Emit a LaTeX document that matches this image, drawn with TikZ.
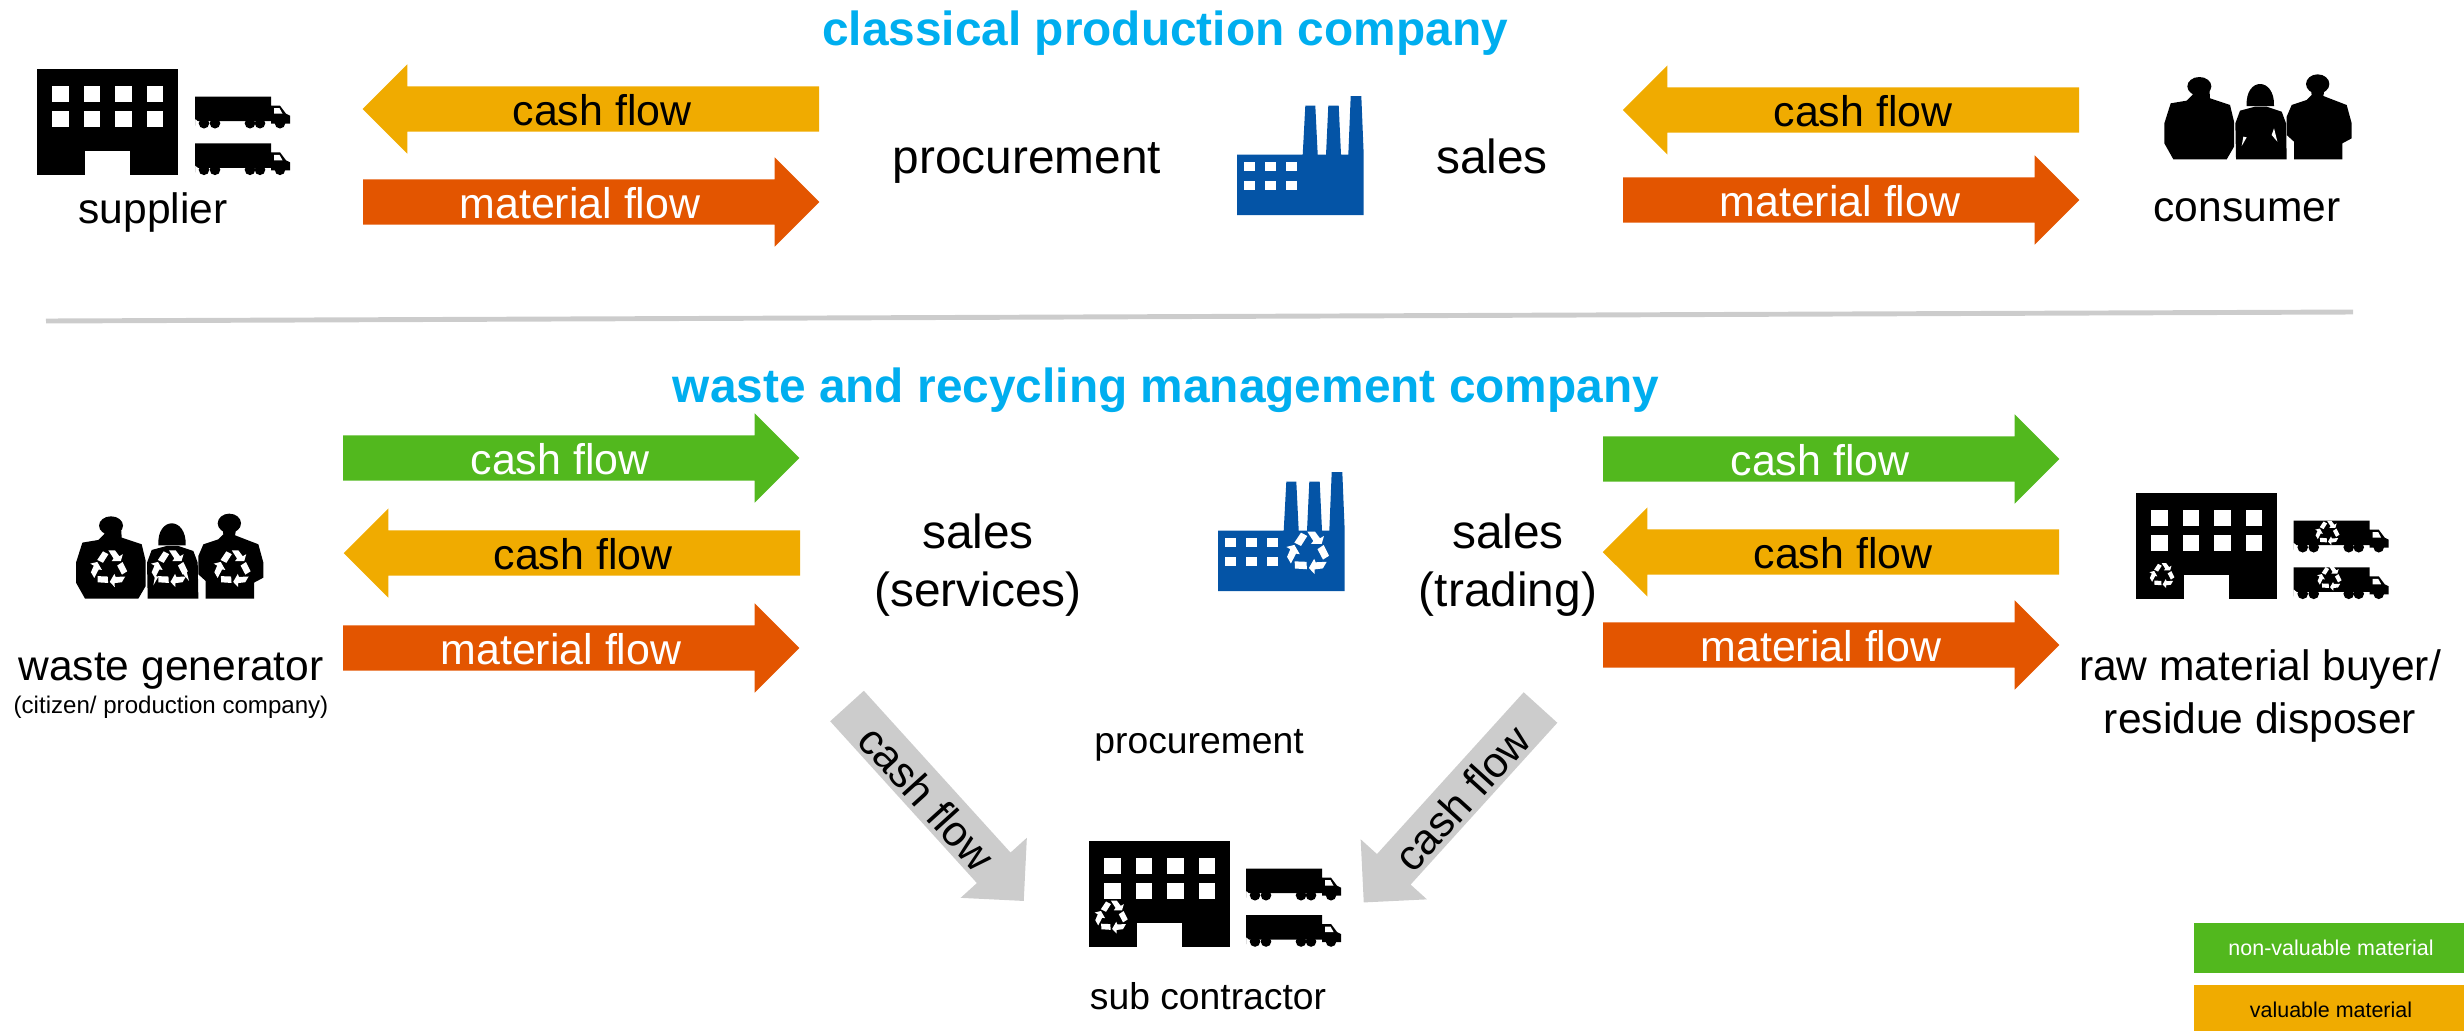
\documentclass[tikz,border=0pt]{standalone}
\usepackage{fontspec}
\setmainfont{Liberation Sans}
\usetikzlibrary{shapes.arrows}

\definecolor{titleblue}{HTML}{00AEEF}
\definecolor{factoryblue}{HTML}{0454A6}
\definecolor{flowgreen}{HTML}{52B81E}
\definecolor{flowamber}{HTML}{F0AB00}
\definecolor{floworange}{HTML}{E35500}
\definecolor{flowgray}{HTML}{CCCCCC}

\tikzset{
  flowarrow/.style={single arrow, anchor=tail, inner xsep=0pt, inner ysep=0.22cm, outer sep=0pt,
    minimum height=4.56cm, minimum width=0.88cm,
    single arrow head extend=0.22cm, single arrow tip angle=90},
  titletext/.style={text=titleblue, font=\fontsize{13.6}{16}\selectfont\bfseries},
  flowtext/.style={font=\fontsize{12.2}{14}\selectfont},
  bigtext/.style={align=center, font=\fontsize{13.6}{16.4}\selectfont},
  roletext/.style={align=center, font=\fontsize{12.1}{14.8}\selectfont},
  smalltext/.style={font=\fontsize{10.6}{13}\selectfont},
  legendbox/.style={minimum width=2.74cm, minimum height=0.5cm, inner sep=0pt,
    font=\fontsize{6.1}{7}\selectfont},
  % One sixth of a recycling sign is repeated around the centre
  recyclesign/.pic={
    \foreach \a in {0,120,240} {
      \begin{scope}[rotate=\a]
        \fill [white] (-42,-29) -- (-22,-59) -- (-3,-49) -- (-22,-19) -- cycle;
        \fill [white] (-3,-62) -- (20,-62) -- (35,-42) -- (47,-49) -- (40,-25)
          -- (8,-25) -- (15,-34) -- cycle;
      \end{scope}
    }
  },
  building/.pic={
    \fill (0,0) rectangle (141,106);
    \foreach \x in {15,46.5,78,109.5}
      \foreach \y in {16.7,41.5}
        \fill [white] (\x,\y) rectangle +(16.7,16.7);
    % The door
    \fill [white] (47.5,82) rectangle (92.7,106);
  },
  truck/.pic={
    \fill (0,0) -- (76,0) -- (76,9) -- (85,9) -- (91,17) -- (95,19) -- (95,27)
      -- (76,27) -- (76,24.5) -- (3,24.5) -- (0,22) -- (0,29) -- cycle;
    \foreach \x in {9,20,55,65,85}
      \fill (\x,26.5) circle [radius=5.3];
    % The cab window
    \fill [white] (79,11.5) -- (84.5,11.5) -- (87.5,17) -- (79,17) -- cycle;
  },
  factory/.pic={
    \fill [factoryblue] (0,119) -- (0,58.7) -- (65.7,58.7) -- (68.3,9.7) -- (78.3,9.7)
      -- (80.7,58.7) -- (89,58.7) -- (91.3,9.7) -- (101.7,9.7) -- (104,58.7)
      -- (111.3,58.7) -- (113.7,0) -- (124.3,0) -- (126.7,58.7) -- (126.7,119) -- cycle;
    \foreach \x in {7.3,28.3,49}
      \foreach \y in {65.7,84.7}
        \fill [white] (\x,\y) rectangle +(10.7,9.3);
  },
  % Three people, in units of a third of a pixel
  people/.pic={
    % The left man
    \fill (130,298) -- (103,250) -- (103,190) -- (122,130) -- (170,122) -- (188,104)
      -- (186,85) -- (238,85) -- (240,115) -- (300,135) -- (312,185) -- (312,260)
      -- (290,298) -- cycle;
    \fill (208,79) ellipse [x radius=36, y radius=28];
    % The woman
    \fill (318,298) -- (316,190) -- (330,152) -- (375,140) -- (410,140) -- (455,155)
      -- (468,190) -- (470,298) -- cycle;
    \fill (350,138) .. controls (345,50) and (435,50) .. (432,138) -- cycle;
    \fill [white] (340,230) -- (335,258) -- (350,232) -- cycle;
    \fill [white] (432,205) -- (425,225) -- (442,245) -- cycle;
    % The right man
    \fill (492,298) -- (492,245) -- (470,225) -- (470,170) -- (485,135) -- (530,120)
      -- (545,105) -- (542,85) -- (584,85) -- (580,108) -- (650,135) -- (665,190)
      -- (665,235) -- (637,250) -- (637,298) -- cycle;
    \fill (563,72) ellipse [x radius=35, y radius=29];
  }
}

\begin{document}
\begin{tikzpicture}[x=0.01cm, y=-0.01cm]
  \path [use as bounding box, clip] (0,0) rectangle (2464,1030);

  % The titles
  \node [titletext] (title1) at (1165,33) {classical production company};
  \node [titletext] (title2) at (1166,390) {waste and recycling management company};

  % The rule between both companies
  \draw [flowgray, line width=1.4pt] (46,321) -- (2353,312);

  % Supplier
  \pic (supbuild) at (37,69) {building};
  \pic (suptruck1) at (195,96.7) {truck};
  \pic (suptruck2) at (195,143.3) {truck};
  \node [roletext] (supplier) at (153,212) {supplier};

  % Consumer
  \pic [scale=1/3] (conpeople) at (2130,60) {people};
  \node [roletext] (consumer) at (2247,210) {consumer};

  % The classical company
  \pic (topfactory) at (1237,96) {factory};
  \node [bigtext] (topproc) at (1027,163) {procurement};
  \node [bigtext] (topsales) at (1492,156) {sales};

  % Flows of the classical company
  \node [flowarrow, fill=flowamber, rotate=180] (a1) at (819,109) {};
  \node [flowtext] (a1text) at (602,110) {cash flow};
  \node [flowarrow, fill=floworange] (a2) at (363,202) {};
  \node [flowtext, text=white] (a2text) at (580,203) {material flow};
  \node [flowarrow, fill=flowamber, rotate=180] (a3) at (2079,110) {};
  \node [flowtext] (a3text) at (1863,111) {cash flow};
  \node [flowarrow, fill=floworange] (a4) at (1623,200) {};
  \node [flowtext, text=white] (a4text) at (1840,201) {material flow};

  % Waste generator
  \pic [scale=1/3] (genpeople) at (41.7,499.3) {people};
  \pic [scale=0.288] (gensign1) at (109.3,568.3) {recyclesign};
  \pic [scale=0.288] (gensign2) at (170,568.3) {recyclesign};
  \pic [scale=0.288] (gensign3) at (232.7,568.3) {recyclesign};
  \node [roletext] (generator) at (171,671) {waste generator};
  \node [font=\fontsize{6.85}{8}\selectfont] (genwho) at (171,707) {(citizen/ production company)};

  % The waste and recycling company
  \pic (midfactory) at (1218,472) {factory};
  \pic [scale=1/3] (midsign) at (1308.3,552.3) {recyclesign};
  \node [bigtext] (midservices) at (978,565) {sales\\(services)};
  \node [bigtext] (midtrading) at (1508,565) {sales\\(trading)};
  \node [smalltext] (midproc) at (1199,745) {procurement};

  % Flows on the left side
  \node [flowarrow, fill=flowgreen] (b1) at (343,458) {};
  \node [flowtext, text=white] (b1text) at (560,459) {cash flow};
  \node [flowarrow, fill=flowamber, rotate=180] (b2) at (800,553) {};
  \node [flowtext] (b2text) at (583,554) {cash flow};
  \node [flowarrow, fill=floworange] (b3) at (343,648) {};
  \node [flowtext, text=white] (b3text) at (561,649) {material flow};

  % Flows on the right side
  \node [flowarrow, fill=flowgreen] (c1) at (1603,459) {};
  \node [flowtext, text=white] (c1text) at (1820,460) {cash flow};
  \node [flowarrow, fill=flowamber, rotate=180] (c2) at (2059,552) {};
  \node [flowtext] (c2text) at (1843,553) {cash flow};
  \node [flowarrow, fill=floworange] (c3) at (1603,645) {};
  \node [flowtext, text=white] (c3text) at (1821,646) {material flow};

  % Raw material buyer
  \pic (buybuild) at (2136,493) {building};
  \pic [scale=0.195] (buysign) at (2162.3,575.3) {recyclesign};
  \pic (buytruck1) at (2293.7,520.7) {truck};
  \pic (buytruck2) at (2293.7,567.3) {truck};
  \pic [scale=0.19] (buysign1) at (2327.7,532.7) {recyclesign};
  \pic [scale=0.19] (buysign2) at (2329.7,578.3) {recyclesign};
  \node [roletext] (buyer) at (2260,696) {raw material buyer/\\residue disposer};

  % Sub contractor
  \pic (subbuild) at (1089,841) {building};
  \pic [scale=0.258] (subsign) at (1111.7,916.7) {recyclesign};
  \pic (subtruck1) at (1246,868.7) {truck};
  \pic (subtruck2) at (1246,915) {truck};
  \node [smalltext] (subcon) at (1208,996) {sub contractor};

  % Both cash flows to the sub contractor
  \node [flowarrow, fill=flowgray, rotate=-47.8, minimum height=2.63cm] (d1) at (847,706) {};
  \node [flowtext, rotate=-47.8] (d1text) at (927,798) {cash flow};
  \node [flowarrow, fill=flowgray, rotate=-132.2, minimum height=2.63cm] (d2) at (1540.5,707.5) {};
  \node [flowtext, rotate=47.8] (d2text) at (1462,798) {cash flow};

  % The legend
  \node [legendbox, fill=flowgreen, text=white] (legend1) at (2331,948) {non-valuable material};
  \node [legendbox, fill=flowamber] (legend2) at (2331,1010) {valuable material};
\end{tikzpicture}
\end{document}
